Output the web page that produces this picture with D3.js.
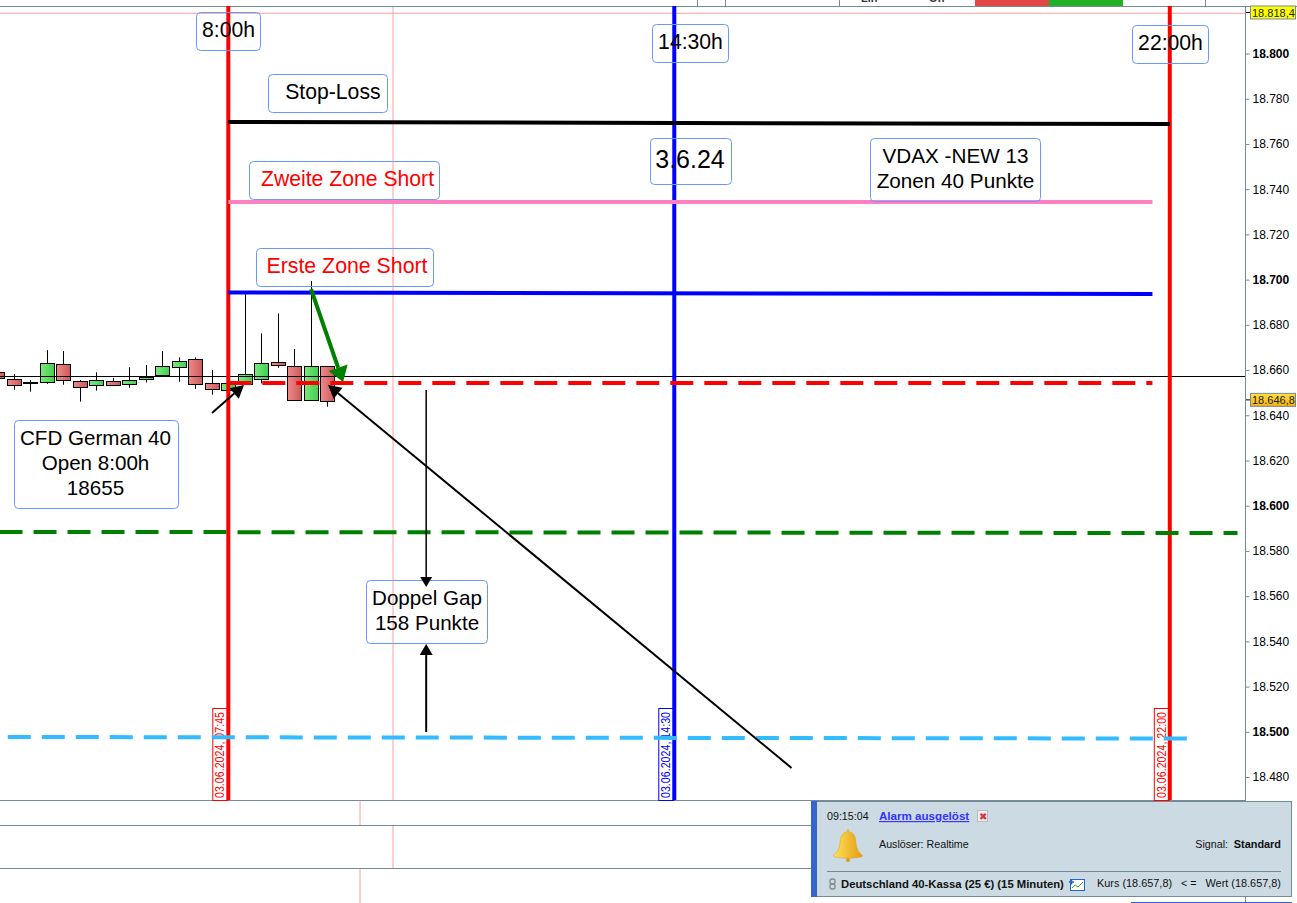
<!DOCTYPE html>
<html><head><meta charset="utf-8">
<script src="https://cdn.jsdelivr.net/npm/d3@7"></script>
<style>html,body{margin:0;padding:0;background:#fff;overflow:hidden}svg{display:block;font-family:"Liberation Sans",Arial,sans-serif}</style>
</head><body><svg id="c" width="1297" height="903"></svg>
<script>
// bar number: 15-minute bars counted from 07:45
const bars  = [-14,-13,-12,-11,-10,-9,-8,-7,-6,-5,-4,-3,-2,-1,0,1,2,3,4,5,6];
const opens = [659.0,655.9,654.5,654.5,662.5,655.0,653.2,655.0,653.7,655.9,657.6,661.2,664.7,654.1,651.0,653.7,655.9,663.4,662.0,647.0,661.6];
const highs = [660.0,658.2,655.6,668.8,668.4,655.6,659.0,656.5,661.2,662.2,668.4,665.6,665.6,660.0,655.6,693.9,676.2,685.0,669.3,699.4,661.6];
const lows  = [655.0,651.3,650.4,653.9,653.5,646.0,650.9,653.0,652.2,654.5,657.2,654.8,651.7,649.1,649.0,653.7,654.1,661.0,647.0,647.0,643.8];
const closes= [656.3,653.2,654.1,662.9,655.4,652.3,655.4,653.2,655.4,657.0,661.6,663.8,653.7,651.4,654.1,658.1,662.9,662.0,647.0,662.0,646.1];
const base = 18000;
const yTicks = [18800,18780,18760,18740,18720,18700,18680,18660,18640,18620,18600,18580,18560,18540,18520,18500,18480];
const boldTicks = [18800,18700,18600,18500];
const levels = [
 {x0:0,x1:57,v0:18769.7,v1:18768.8,c:"#000000",dash:null},
 {x0:0,x1:55.95,v0:18734.3,v1:18734.3,c:"#ff80c0",dash:null},
 {x0:0,x1:55.95,v0:18694.3,v1:18693.6,c:"#0000ff",dash:null},
 {x0:0,x1:55.95,v0:18654.3,v1:18654.3,c:"#ff0000",dash:"23 11"},
 {x0:-13.85,x1:61.1,v0:18588.4,v1:18587.9,c:"#008000",dash:"23 11"},
 {x0:-13.35,x1:58.1,v0:18497.7,v1:18497.0,c:"#33bbff",dash:"23 11"}
];
const sessions = [
 {bar:0,c:"#ff0000",label:"03.06.2024, 07:45"},
 {bar:27,c:"#0000ff",label:"03.06.2024, 14:30"},
 {bar:57,c:"#ff0000",label:"03.06.2024, 22:00"}
];
const arrows = [
 {x0:-0.99,v0:18641.0,x1:0.95,v1:18653.4,c:"#000",w:2,hl:13,hw:7},
 {x0:34.1,v0:18484.0,x1:6.04,v1:18653.4,c:"#000",w:2,hl:13,hw:7},
 {x0:5.01,v0:18695.8,x1:6.95,v1:18654.7,c:"#008000",w:4,hl:15,hw:10},
 {x0:11.98,v0:18651.2,x1:11.98,v1:18564.0,c:"#000",w:1.5,hl:10,hw:6},
 {x0:11.98,v0:18499.9,x1:11.98,v1:18538.8,c:"#000",w:2,hl:11,hw:6.5}
];
const notes = [
 {b:[196,12,64,38],lines:["8:00h"],fs:21.2,c:"#000",dx:0},
 {b:[652,24,76,38],lines:["14:30h"],fs:21.2,c:"#000",dx:0},
 {b:[1132,25,76,38],lines:["22:00h"],fs:21.2,c:"#000",dx:0},
 {b:[268,74,119,38],lines:["  Stop-Loss"],fs:21.2,c:"#000",dx:-1},
 {b:[650,138,81,46],lines:["3.6.24"],fs:25,c:"#000",dx:-1},
 {b:[870,138,170,63],lines:["VDAX -NEW 13","Zonen 40 Punkte"],fs:20.7,c:"#000",dx:0},
 {b:[249,161,190,38],lines:["Zweite Zone Short"],fs:21.2,c:"#ff0000",dx:3},
 {b:[256,248,177,38],lines:["Erste Zone Short"],fs:21.3,c:"#ff0000",dx:2},
 {b:[14,420,164,88],lines:["CFD German 40","Open 8:00h","18655"],fs:20.6,c:"#000",dx:-1},
 {b:[366,580,121,63],lines:["Doppel Gap","158 Punkte"],fs:20.6,c:"#000",dx:0}
];
const lastPrice = 18657.2, highMark = 18817.8, lowMark = 18646.8;

const svg = d3.select("#c");
const defs = svg.append("defs");
function grad(id,a,b,h){const g=defs.append("linearGradient").attr("id",id);
 if(h){g.attr("x1",0).attr("x2",1).attr("y1",0).attr("y2",0)}else{g.attr("x1",0).attr("x2",0).attr("y1",0).attr("y2",1)}
 g.append("stop").attr("offset",0).attr("stop-color",a);g.append("stop").attr("offset",1).attr("stop-color",b);}
grad("up","#7fe87f","#3fd04f",true);grad("dn","#ee8a8a","#cc5a5a",true);
grad("gold","#ffe35a","#e39a10",true);grad("orange","#ffe040","#f5b010",false);

const x = d3.scaleLinear().domain([0,57]).range([228.3,1169.8]);
const y = d3.scaleLinear().domain([18800,18480]).range([53.5,777]);
const grid="#748b95", pink="#f4a0a0";
const hl=(x1,y1,x2,y2,c,w=1)=>svg.append("line").attr("x1",x1).attr("y1",y1).attr("x2",x2).attr("y2",y2).attr("stroke",c).attr("stroke-width",w);

// frame
[[393,6,393,800],[360,800,360,825],[393,825,393,868],[360,868,360,903]].forEach(d=>hl(...d,pink));
hl(0,6.5,1297,6.5,grid);
[800.5,825.5,868.5].forEach(v=>hl(0,v,1245,v,grid));
[697.5,725.5,839.5,1205.5].forEach(v=>hl(v,0,v,6,grid));
svg.append("rect").attr("x",975).attr("y",0).attr("width",74).attr("height",6).attr("fill","#e04848");
svg.append("rect").attr("x",1049).attr("y",0).attr("width",74).attr("height",6).attr("fill","#22b028");
svg.append("text").attr("x",861).attr("y",2).attr("font-size",11).attr("font-weight","bold").attr("fill","#333").text("Lin");
svg.append("text").attr("x",929).attr("y",2).attr("font-size",11).attr("font-weight","bold").attr("fill","#333").text("Off");
hl(0,y(highMark),1245,y(highMark),pink);

// axis
hl(1245.5,6,1245.5,903,grid);
const fmtL=d3.formatLocale({decimal:",",thousands:".",grouping:[3],currency:["",""]}).format(",d");
const ax=svg.append("g").attr("transform","translate(1245.5,0)").call(d3.axisRight(y).tickValues(yTicks).tickSize(4).tickPadding(3).tickFormat(fmtL));
ax.select(".domain").remove();
ax.selectAll("line").attr("stroke",grid);
ax.selectAll("text").attr("font-family","'Liberation Sans',Arial,sans-serif").attr("font-size",12).attr("fill","#000")
  .attr("font-weight",d=>boldTicks.includes(d)?"bold":"normal");

// candles
const cw=14;
const candles=svg.append("g");
bars.forEach((b,i)=>{
 const h=base+highs[i], l=base+lows[i], oo=base+opens[i], cc=base+closes[i];
 const up=cc>=oo, top=y(Math.max(oo,cc)), bot=y(Math.min(oo,cc)), cx=Math.round(x(b));
 candles.append("line").attr("x1",cx+.5).attr("x2",cx+.5).attr("y1",y(h)).attr("y2",y(l)).attr("stroke","#000");
 candles.append("rect").attr("x",cx-cw/2+.5).attr("y",Math.round(top)+.5).attr("width",cw).attr("height",Math.max(1,Math.round(bot-top)))
  .attr("fill",Math.abs(cc-oo)<1?"#000":up?"url(#up)":"url(#dn)").attr("stroke","#000");
});
hl(0,Math.round(y(lastPrice))+.5,1245,Math.round(y(lastPrice))+.5,"#000");

// sessions
sessions.forEach(s=>{
 const px=x(s.bar);
 svg.append("rect").attr("x",px-15.5).attr("y",708.5).attr("width",15).attr("height",92).attr("fill","#fff").attr("stroke",s.c);
 svg.append("text").attr("transform",`translate(${px-4},798) rotate(-90)`).attr("font-size",12).attr("textLength",86).attr("lengthAdjust","spacingAndGlyphs").attr("fill",s.c).text(s.label);
 hl(px,6,px,800,s.c,4);
});
// levels
levels.forEach(d=>{const l=hl(x(d.x0),y(d.v0),x(d.x1),y(d.v1),d.c,4);if(d.dash)l.attr("stroke-dasharray",d.dash);});

// notes
notes.forEach(n=>{
 const [bx,by,bw,bh]=n.b;
 svg.append("rect").attr("x",bx+.5).attr("y",by+.5).attr("width",bw).attr("height",bh).attr("rx",4).attr("fill","none").attr("stroke","#6699ff");
 const lh=25, t0=by+bh/2-(n.lines.length-1)*lh/2+n.fs*.27;
 n.lines.forEach((t,i)=>svg.append("text").attr("x",bx+bw/2+.5+n.dx).attr("y",t0+i*lh).attr("text-anchor","middle").attr("xml:space","preserve")
  .attr("font-size",n.fs).attr("fill",n.c).text(t));
});

// arrows
arrows.forEach(a=>{
 const X0=x(a.x0),Y0=y(a.v0),X1=x(a.x1),Y1=y(a.v1),ang=Math.atan2(Y1-Y0,X1-X0),ca=Math.cos(ang),sa=Math.sin(ang);
 const bx=X1-a.hl*ca,by=Y1-a.hl*sa;
 hl(X0,Y0,bx,by,a.c,a.w);
 svg.append("path").attr("d",d3.line()([[X1,Y1],[bx-a.hw*sa,by+a.hw*ca],[bx+a.hw*sa,by-a.hw*ca]])+"Z").attr("fill",a.c);
});

// price flags
function flag(yc,fill,t){
 svg.append("rect").attr("x",1250.5).attr("y",yc-6.5).attr("width",45).attr("height",13).attr("fill",fill).attr("stroke",grid);
 svg.append("text").attr("x",1252).attr("y",yc+4).attr("font-size",11).attr("fill","#222").text(t);
 hl(1246,yc,1250,yc,"#000");
}
flag(12.5,"#ffff00","18.818,4");
flag(y(lowMark),"url(#orange)","18.646,8");

// alert panel
const g=svg.append("g");
g.append("rect").attr("x",811.5).attr("y",801.5).attr("width",480).attr("height",95).attr("fill","#ccdbe3").attr("stroke",grid);
g.append("rect").attr("x",811).attr("y",801).attr("width",6).attr("height",96).attr("fill","#3366cc");
hl(1131,902.5,1292,902.5,"#3366cc");
const T=(s,xx,yy,o={})=>{const e=g.append("text").attr("x",xx).attr("y",yy).attr("font-size",o.fs||10.7).attr("fill",o.c||"#111")
 .attr("font-weight",o.b?"bold":"normal").attr("text-anchor",o.a||"start").text(s);if(o.u)e.attr("text-decoration","underline");return e;};
T("09:15:04",827,820);
T("Alarm ausgelöst",879,820,{c:"#3333ff",u:1,b:1,fs:11.6});
g.append("rect").attr("x",977.5).attr("y",810.5).attr("width",10).attr("height",11).attr("fill","#eee").attr("stroke","#bbb");
T("✖",978.5,820,{c:"#e03040",fs:10});
T("Auslöser: Realtime",879,848);
T("Signal:",1228,848,{a:"end"});
T("Standard",1281,848,{a:"end",b:1,fs:10.9});
hl(827,871.5,1281,871.5,grid);
T("Deutschland 40-Kassa (25 €) (15 Minuten)",841,888,{b:1,fs:11.3});
T("Kurs (18.657,8)",1097,887,{fs:10.9});
T("< =",1181,887);
T("Wert (18.657,8)",1281,887,{a:"end",fs:10.9});
// bell
g.append("path").attr("d","M848 829 l1.5 3 c5 1 6 5 6.5 11 c.5 6 3 10 7 13 c-4 3 -25 3 -30 0 c4 -3 6.5 -7 7 -13 c.5 -6 1.5 -10 6.5 -11 z").attr("fill","url(#gold)").attr("stroke","#d8a020").attr("stroke-width",.5);
g.append("circle").attr("cx",848).attr("cy",860).attr("r",2).attr("fill","#d89a20");
// link icon
g.append("rect").attr("x",830).attr("y",879).attr("width",5).attr("height",5).attr("rx",2).attr("fill","none").attr("stroke","#888").attr("stroke-width",1.3);
g.append("rect").attr("x",830).attr("y",884).attr("width",5).attr("height",5).attr("rx",2).attr("fill","none").attr("stroke","#888").attr("stroke-width",1.3);
// chart icon
g.append("rect").attr("x",1070.5).attr("y",879.5).attr("width",14).attr("height",11).attr("fill","#fff").attr("stroke","#2266cc");
g.append("path").attr("d","M1072 888 l3 -3 l3 2 l5 -5").attr("fill","none").attr("stroke","#33aa33");
g.append("path").attr("d","M1069 882 h5 M1071.5 879.5 v5").attr("stroke","#2266cc").attr("stroke-width",1.5);
</script></body></html>
